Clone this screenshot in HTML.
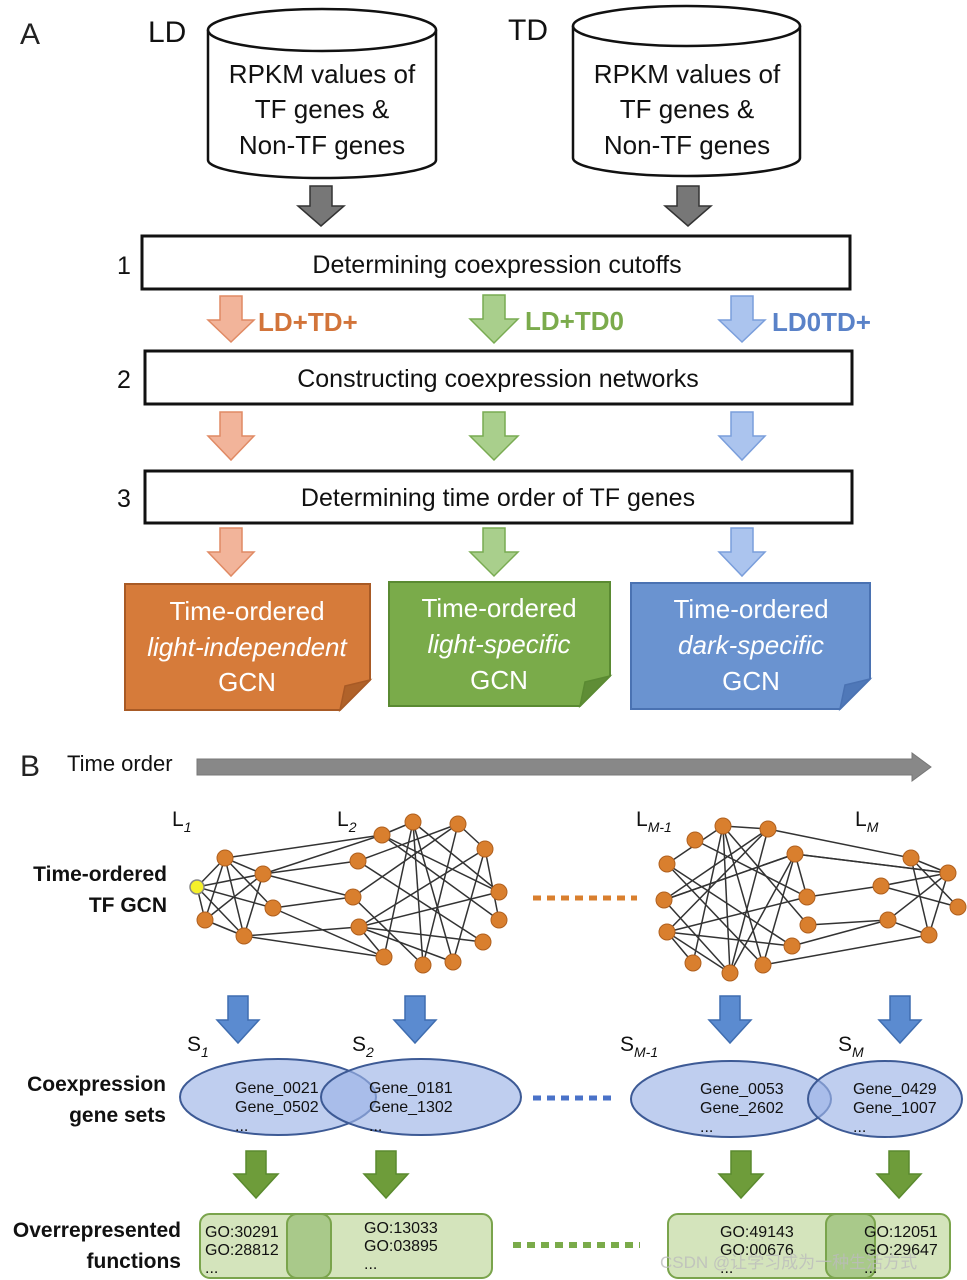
<!DOCTYPE html>
<html><head><meta charset="utf-8"><style>
html,body{margin:0;padding:0;background:#fff;}
svg{display:block;}
text{font-family:"Liberation Sans","Noto Sans CJK SC",sans-serif;}
</style></head><body>
<svg width="967" height="1280" viewBox="0 0 967 1280" xmlns="http://www.w3.org/2000/svg">
<!-- Part A -->
<text x="20" y="44" font-size="30" fill="#222">A</text>
<text x="148" y="42" font-size="30" fill="#111">LD</text>
<text x="508" y="40" font-size="30" fill="#111">TD</text>

<!-- cylinders -->
<g stroke="#111" stroke-width="2.5" fill="#fff">
<path d="M208,30 V160 A114,18 0 0 0 436,160 V30"/>
<ellipse cx="322" cy="30" rx="114" ry="21"/>
<path d="M573,26 V158 A113.5,18 0 0 0 800,158 V26"/>
<ellipse cx="686.5" cy="26" rx="113.5" ry="20"/>
</g>
<g font-size="26" fill="#111" text-anchor="middle">
<text x="322" y="83">RPKM values of</text>
<text x="322" y="118">TF genes &amp;</text>
<text x="322" y="154">Non-TF genes</text>
<text x="687" y="83">RPKM values of</text>
<text x="687" y="118">TF genes &amp;</text>
<text x="687" y="154">Non-TF genes</text>
</g>

<!-- gray arrows -->
<g fill="#777" stroke="#333" stroke-width="1.5">
<path d="M310,186 H332 V206 H344 L321,226 L298,206 H310 Z"/>
<path d="M677,186 H699 V206 H711 L688,226 L665,206 H677 Z"/>
</g>

<!-- boxes -->
<g fill="#fff" stroke="#111" stroke-width="3">
<rect x="142" y="236" width="708" height="53"/>
<rect x="145" y="351" width="707" height="53"/>
<rect x="145" y="471" width="707" height="52"/>
</g>
<g font-size="25" fill="#111">
<text x="117" y="274">1</text>
<text x="117" y="388">2</text>
<text x="117" y="507">3</text>
<text x="497" y="273" text-anchor="middle">Determining coexpression cutoffs</text>
<text x="498" y="387" text-anchor="middle">Constructing coexpression networks</text>
<text x="498" y="506" text-anchor="middle">Determining time order of TF genes</text>
</g>

<!-- colored arrows -->
<g stroke-width="1.5">
<g fill="#f2b49a" stroke="#e08a64">
<path d="M220,296 H242 V320 H254 L231,342 L208,320 H220 Z"/>
<path d="M220,412 H242 V436 H254 L231,460 L208,436 H220 Z"/>
<path d="M220,528 H242 V552 H254 L231,576 L208,552 H220 Z"/>
</g>
<g fill="#a9cf8c" stroke="#79ab52">
<path d="M483,295 H505 V319 H518 L494,343 L470,319 H483 Z"/>
<path d="M483,412 H505 V436 H518 L494,460 L470,436 H483 Z"/>
<path d="M483,528 H505 V552 H518 L494,576 L470,552 H483 Z"/>
</g>
<g fill="#abc4ee" stroke="#7a9edb">
<path d="M731,296 H753 V320 H765 L742,342 L719,320 H731 Z"/>
<path d="M731,412 H753 V436 H765 L742,460 L719,436 H731 Z"/>
<path d="M731,528 H753 V552 H765 L742,576 L719,552 H731 Z"/>
</g>
</g>
<g font-size="26" font-weight="bold">
<text x="258" y="331" fill="#d2743a">LD+TD+</text>
<text x="525" y="330" fill="#7bab4c">LD+TD0</text>
<text x="772" y="331" fill="#5a82c8">LD0TD+</text>
</g>

<!-- notes -->
<path d="M125,584 H370 V680 L340,710 H125 Z" fill="#d67b3a" stroke="#a85a25" stroke-width="2"/>
<path d="M370,680 L340,710 L345,686 Z" fill="#b0622a" stroke="#a85a25" stroke-width="1.5"/>
<path d="M389,582 H610 V676 L580,706 H389 Z" fill="#7aab4a" stroke="#5a8a32" stroke-width="2"/>
<path d="M610,676 L580,706 L585,682 Z" fill="#5f8d36" stroke="#5a8a32" stroke-width="1.5"/>
<path d="M631,583 H870 V679 L840,709 H631 Z" fill="#6a93d0" stroke="#4a72b2" stroke-width="2"/>
<path d="M870,679 L840,709 L845,685 Z" fill="#4f78b8" stroke="#4a72b2" stroke-width="1.5"/>
<g font-size="26" fill="#fff" text-anchor="middle">
<text x="247" y="620">Time-ordered</text>
<text x="247" y="656" font-style="italic">light-independent</text>
<text x="247" y="691">GCN</text>
<text x="499" y="617">Time-ordered</text>
<text x="499" y="653" font-style="italic">light-specific</text>
<text x="499" y="689">GCN</text>
<text x="751" y="618">Time-ordered</text>
<text x="751" y="654" font-style="italic">dark-specific</text>
<text x="751" y="690">GCN</text>
</g>

<!-- Part B -->
<text x="20" y="776" font-size="30" fill="#222">B</text>
<text x="67" y="771" font-size="22" fill="#111">Time order</text>
<path d="M197,759 H912 V753 L931,767 L912,781 V775 H197 Z" fill="#888" stroke="#777" stroke-width="1"/>

<g font-size="21" fill="#111">
<text x="172" y="826">L<tspan font-size="14" font-style="italic" dy="6">1</tspan></text>
<text x="337" y="826">L<tspan font-size="14" font-style="italic" dy="6">2</tspan></text>
<text x="636" y="826">L<tspan font-size="14" font-style="italic" dy="6">M-1</tspan></text>
<text x="855" y="826">L<tspan font-size="14" font-style="italic" dy="6">M</tspan></text>
</g>
<g font-size="21" font-weight="bold" fill="#111" text-anchor="end">
<text x="167" y="881">Time-ordered</text>
<text x="167" y="912">TF GCN</text>
<text x="166" y="1091">Coexpression</text>
<text x="166" y="1122">gene sets</text>
<text x="181" y="1237">Overrepresented</text>
<text x="181" y="1268">functions</text>
</g>

<!-- network edges left -->
<g stroke="#333" stroke-width="1.5">
<line x1="197" y1="887" x2="225" y2="858"/><line x1="197" y1="887" x2="263" y2="874"/>
<line x1="197" y1="887" x2="205" y2="920"/><line x1="197" y1="887" x2="273" y2="908"/>
<line x1="197" y1="887" x2="244" y2="936"/><line x1="225" y1="858" x2="263" y2="874"/>
<line x1="225" y1="858" x2="244" y2="936"/><line x1="225" y1="858" x2="273" y2="908"/>
<line x1="205" y1="920" x2="263" y2="874"/><line x1="205" y1="920" x2="244" y2="936"/>
<line x1="263" y1="874" x2="244" y2="936"/><line x1="225" y1="858" x2="205" y2="920"/>
<line x1="225" y1="858" x2="382" y2="835"/><line x1="263" y1="874" x2="382" y2="835"/>
<line x1="263" y1="874" x2="358" y2="861"/><line x1="263" y1="874" x2="353" y2="897"/>
<line x1="273" y1="908" x2="353" y2="897"/><line x1="273" y1="908" x2="384" y2="957"/>
<line x1="244" y1="936" x2="359" y2="927"/><line x1="244" y1="936" x2="384" y2="957"/>
<line x1="382" y1="835" x2="413" y2="822"/><line x1="382" y1="835" x2="499" y2="920"/>
<line x1="413" y1="822" x2="423" y2="965"/><line x1="413" y1="822" x2="499" y2="892"/>
<line x1="413" y1="822" x2="453" y2="962"/><line x1="458" y1="824" x2="353" y2="897"/>
<line x1="458" y1="824" x2="485" y2="849"/><line x1="458" y1="824" x2="423" y2="965"/>
<line x1="485" y1="849" x2="359" y2="927"/><line x1="485" y1="849" x2="453" y2="962"/>
<line x1="485" y1="849" x2="499" y2="920"/><line x1="358" y1="861" x2="483" y2="942"/>
<line x1="358" y1="861" x2="458" y2="824"/><line x1="353" y1="897" x2="423" y2="965"/>
<line x1="359" y1="927" x2="499" y2="892"/><line x1="359" y1="927" x2="384" y2="957"/>
<line x1="359" y1="927" x2="483" y2="942"/><line x1="359" y1="927" x2="453" y2="962"/>
<line x1="384" y1="957" x2="413" y2="822"/><line x1="382" y1="835" x2="499" y2="892"/>
</g>
<!-- network edges right -->
<g stroke="#333" stroke-width="1.5">
<line x1="723" y1="826" x2="768" y2="829"/><line x1="723" y1="826" x2="667" y2="864"/>
<line x1="723" y1="826" x2="693" y2="963"/><line x1="723" y1="826" x2="730" y2="973"/>
<line x1="723" y1="826" x2="808" y2="925"/><line x1="723" y1="826" x2="763" y2="965"/>
<line x1="768" y1="829" x2="664" y2="900"/><line x1="768" y1="829" x2="730" y2="973"/>
<line x1="768" y1="829" x2="911" y2="858"/><line x1="795" y1="854" x2="664" y2="900"/>
<line x1="795" y1="854" x2="807" y2="897"/><line x1="795" y1="854" x2="730" y2="973"/>
<line x1="795" y1="854" x2="948" y2="873"/><line x1="795" y1="854" x2="763" y2="965"/>
<line x1="695" y1="840" x2="807" y2="897"/><line x1="667" y1="864" x2="763" y2="965"/>
<line x1="667" y1="864" x2="792" y2="946"/><line x1="664" y1="900" x2="795" y2="854"/>
<line x1="667" y1="932" x2="807" y2="897"/><line x1="667" y1="932" x2="693" y2="963"/>
<line x1="667" y1="932" x2="792" y2="946"/><line x1="667" y1="932" x2="730" y2="973"/>
<line x1="667" y1="932" x2="768" y2="829"/><line x1="664" y1="900" x2="730" y2="973"/>
<line x1="808" y1="925" x2="888" y2="920"/><line x1="807" y1="897" x2="881" y2="886"/>
<line x1="792" y1="946" x2="888" y2="920"/><line x1="763" y1="965" x2="929" y2="935"/>
<line x1="911" y1="858" x2="948" y2="873"/><line x1="911" y1="858" x2="958" y2="907"/>
<line x1="911" y1="858" x2="929" y2="935"/><line x1="881" y1="886" x2="948" y2="873"/>
<line x1="881" y1="886" x2="958" y2="907"/><line x1="888" y1="920" x2="948" y2="873"/>
<line x1="888" y1="920" x2="929" y2="935"/><line x1="948" y1="873" x2="929" y2="935"/>
<line x1="795" y1="854" x2="948" y2="873"/>
</g>
<!-- nodes -->
<g fill="#d97f2e" stroke="#b0601e" stroke-width="1">
<circle cx="225" cy="858" r="8"/><circle cx="263" cy="874" r="8"/><circle cx="205" cy="920" r="8"/>
<circle cx="273" cy="908" r="8"/><circle cx="244" cy="936" r="8"/>
<circle cx="382" cy="835" r="8"/><circle cx="413" cy="822" r="8"/><circle cx="458" cy="824" r="8"/>
<circle cx="485" cy="849" r="8"/><circle cx="358" cy="861" r="8"/><circle cx="353" cy="897" r="8"/>
<circle cx="359" cy="927" r="8"/><circle cx="499" cy="892" r="8"/><circle cx="499" cy="920" r="8"/>
<circle cx="483" cy="942" r="8"/><circle cx="384" cy="957" r="8"/><circle cx="423" cy="965" r="8"/>
<circle cx="453" cy="962" r="8"/>
<circle cx="695" cy="840" r="8"/><circle cx="723" cy="826" r="8"/><circle cx="768" cy="829" r="8"/>
<circle cx="795" cy="854" r="8"/><circle cx="667" cy="864" r="8"/><circle cx="664" cy="900" r="8"/>
<circle cx="667" cy="932" r="8"/><circle cx="807" cy="897" r="8"/><circle cx="808" cy="925" r="8"/>
<circle cx="792" cy="946" r="8"/><circle cx="693" cy="963" r="8"/><circle cx="730" cy="973" r="8"/>
<circle cx="763" cy="965" r="8"/>
<circle cx="911" cy="858" r="8"/><circle cx="948" cy="873" r="8"/><circle cx="881" cy="886" r="8"/>
<circle cx="958" cy="907" r="8"/><circle cx="888" cy="920" r="8"/><circle cx="929" cy="935" r="8"/>
</g>
<circle cx="197" cy="887" r="7" fill="#f5f02a" stroke="#888" stroke-width="1.5"/>
<line x1="533" y1="898" x2="637" y2="898" stroke="#d97f2e" stroke-width="5" stroke-dasharray="8,6"/>

<!-- blue arrows -->
<g fill="#5b8bd0" stroke="#3f6db0" stroke-width="1.5">
<path d="M228,996 H248 V1020 H259 L238,1043 L217,1020 H228 Z"/>
<path d="M405,996 H425 V1020 H436 L415,1043 L394,1020 H405 Z"/>
<path d="M720,996 H740 V1020 H751 L730,1043 L709,1020 H720 Z"/>
<path d="M890,996 H910 V1020 H921 L900,1043 L879,1020 H890 Z"/>
</g>
<g font-size="21" fill="#111">
<text x="187" y="1051">S<tspan font-size="14" font-style="italic" dy="6">1</tspan></text>
<text x="352" y="1051">S<tspan font-size="14" font-style="italic" dy="6">2</tspan></text>
<text x="620" y="1051">S<tspan font-size="14" font-style="italic" dy="6">M-1</tspan></text>
<text x="838" y="1051">S<tspan font-size="14" font-style="italic" dy="6">M</tspan></text>
</g>

<!-- ellipses -->
<g fill="#9db4e6" fill-opacity="0.65" stroke="#3d5a95" stroke-width="2">
<ellipse cx="278" cy="1097" rx="98" ry="38"/>
<ellipse cx="421" cy="1097" rx="100" ry="38"/>
<ellipse cx="731" cy="1099" rx="100" ry="38"/>
<ellipse cx="885" cy="1099" rx="77" ry="38"/>
</g>
<g font-size="16" fill="#111">
<text x="235" y="1093">Gene_0021</text><text x="235" y="1112">Gene_0502</text><text x="235" y="1131">...</text>
<text x="369" y="1093">Gene_0181</text><text x="369" y="1112">Gene_1302</text><text x="369" y="1131">...</text>
<text x="700" y="1094">Gene_0053</text><text x="700" y="1113">Gene_2602</text><text x="700" y="1132">...</text>
<text x="853" y="1094">Gene_0429</text><text x="853" y="1113">Gene_1007</text><text x="853" y="1132">...</text>
</g>
<line x1="533" y1="1098" x2="612" y2="1098" stroke="#4a72c8" stroke-width="5" stroke-dasharray="8,6"/>

<!-- green arrows -->
<g fill="#6e9c3a" stroke="#5a8a2e" stroke-width="1.5">
<path d="M246,1151 H266 V1174 H278 L256,1198 L234,1174 H246 Z"/>
<path d="M376,1151 H396 V1174 H408 L386,1198 L364,1174 H376 Z"/>
<path d="M731,1151 H751 V1174 H763 L741,1198 L719,1174 H731 Z"/>
<path d="M889,1151 H909 V1174 H921 L899,1198 L877,1174 H889 Z"/>
</g>

<!-- green boxes -->
<g stroke="#7aa44c" stroke-width="2">
<rect x="200" y="1214" width="292" height="64" rx="10" fill="#d4e4bc"/>
<rect x="287" y="1214" width="44" height="64" rx="10" fill="#a9c98a"/>
<rect x="668" y="1214" width="282" height="64" rx="10" fill="#d4e4bc"/>
<rect x="826" y="1214" width="49" height="64" rx="10" fill="#a9c98a"/>
</g>
<g font-size="16" fill="#111">
<text x="205" y="1237">GO:30291</text><text x="205" y="1255">GO:28812</text><text x="205" y="1273">...</text>
<text x="364" y="1233">GO:13033</text><text x="364" y="1251">GO:03895</text><text x="364" y="1269">...</text>
<text x="720" y="1237">GO:49143</text><text x="720" y="1255">GO:00676</text><text x="720" y="1273">...</text>
<text x="864" y="1237">GO:12051</text><text x="864" y="1255">GO:29647</text><text x="864" y="1273">...</text>
</g>
<line x1="513" y1="1245" x2="640" y2="1245" stroke="#7aab4a" stroke-width="6" stroke-dasharray="8,6"/>
<text x="660" y="1268" font-size="17" fill="#bbb" fill-opacity="0.8">CSDN @让学习成为一种生活方式</text>
</svg>
</body></html>
